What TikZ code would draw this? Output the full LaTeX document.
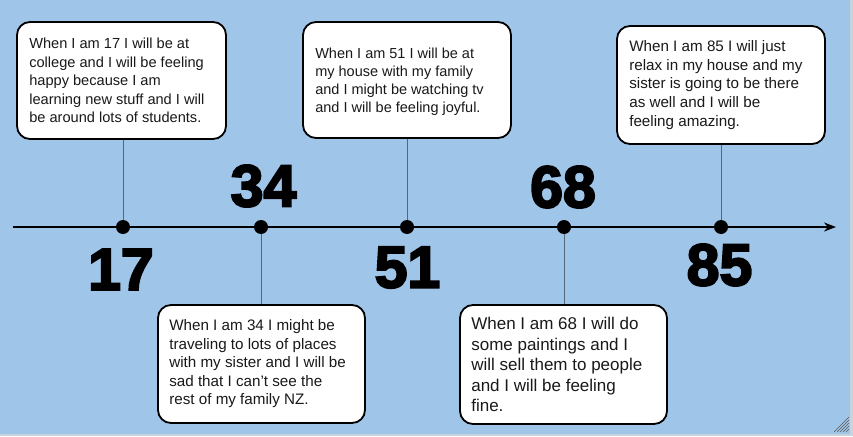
\documentclass[tikz,border=0pt]{standalone}
\usepackage{fontspec}
\setmainfont{Liberation Sans}
\newfontfamily\numfont{Liberation Sans Bold}[FakeBold=3.5]
\usetikzlibrary{arrows.meta}
\definecolor{bgblue}{HTML}{9FC5E8}
\definecolor{edgegray}{HTML}{C9D3DC}
\definecolor{conn}{HTML}{56677A}
\tikzset{
  card/.style={draw=black, line width=1.8pt, fill=white, rounded corners=13pt, inner sep=0pt},
  cardtext/.style={anchor=west, align=left, inner sep=0pt, text=black!90},
  num/.style={inner sep=0pt, font=\numfont\fontsize{59}{59}\selectfont},
  dot/.style={circle, fill=black, inner sep=0pt, minimum size=14pt},
  conline/.style={draw=conn, line width=1pt}
}
\begin{document}
\begin{tikzpicture}[x=1pt,y=-1pt]
\fill[bgblue] (0,0) rectangle (853,436);
\useasboundingbox (0,0) rectangle (853,436);
\fill[edgegray] (850,0) rectangle (853,436);
\fill[edgegray] (0,434) rectangle (853,436);
% resize grip
\foreach \d in {3,6,9,12,15} {
  \draw[gray!70!black, line width=0.6pt] (849-\d,432) -- (849,432-\d);
}

% timeline
\coordinate (tstart) at (13,227);
\coordinate (tend) at (836,227);
\draw[line width=2pt, -{Stealth[length=12pt,width=9pt]}] (tstart) -- (tend);

% dots
\node[dot] (d17) at (123,227) {};
\node[dot] (d34) at (261,227) {};
\node[dot] (d51) at (407,227) {};
\node[dot] (d68) at (564,227) {};
\node[dot] (d85) at (721,227) {};

% cards
\node[card, minimum width=209pt, minimum height=117pt] (c17) at (121.5,80.5) {};
\node[card, minimum width=208pt, minimum height=116pt] (c51) at (407,80) {};
\node[card, minimum width=208pt, minimum height=118pt] (c85) at (721,85) {};
\node[card, minimum width=207pt, minimum height=118pt] (c34) at (261.5,364) {};
\node[card, minimum width=207pt, minimum height=119pt] (c68) at (563.5,364.5) {};

% connectors
\draw[conline] (d17) -- (d17 |- c17.south);
\draw[conline] (d51) -- (d51 |- c51.south);
\draw[conline] (d85) -- (d85 |- c85.south);
\draw[conline] (d34) -- (d34 |- c34.north);
\draw[conline] (d68) -- (d68 |- c68.north);

% card texts
\node[cardtext, font=\fontsize{14.6}{18.5}\selectfont] (t17) at ([xshift=13pt]c17.west)
  {When I am 17 I will be at\\college and I will be feeling\\happy because I am\\learning new stuff and I will\\be around lots of students.};
\node[cardtext, font=\fontsize{14.5}{18}\selectfont] (t51) at ([xshift=13pt,yshift=-1.5pt]c51.west)
  {When I am 51 I will be at\\my house with my family\\and I might be watching tv\\and I will be feeling joyful.};
\node[cardtext, font=\fontsize{15.2}{18.8}\selectfont] (t85) at ([xshift=13pt]c85.west)
  {When I am 85 I will just\\relax in my house and my\\sister is going to be there\\as well and I will be\\feeling amazing.};
\node[cardtext, font=\fontsize{15.2}{18.5}\selectfont] (t34) at ([xshift=12pt]c34.west)
  {When I am 34 I might be\\traveling to lots of places\\with my sister and I will be\\sad that I can't see the\\rest of my family NZ.};
\node[cardtext, font=\fontsize{17}{20.5}\selectfont] (t68) at ([xshift=12pt]c68.west)
  {When I am 68 I will do\\some paintings and I\\will sell them to people\\and I will be feeling\\fine.};

% numbers
\node[num] (n17) at (121,269.5) {17};
\node[num] (n34) at (263.5,186) {34};
\node[num] (n51) at (407.5,267.5) {51};
\node[num] (n68) at (563,187) {68};
\node[num] (n85) at (719.5,265) {85};
\end{tikzpicture}
\end{document}
